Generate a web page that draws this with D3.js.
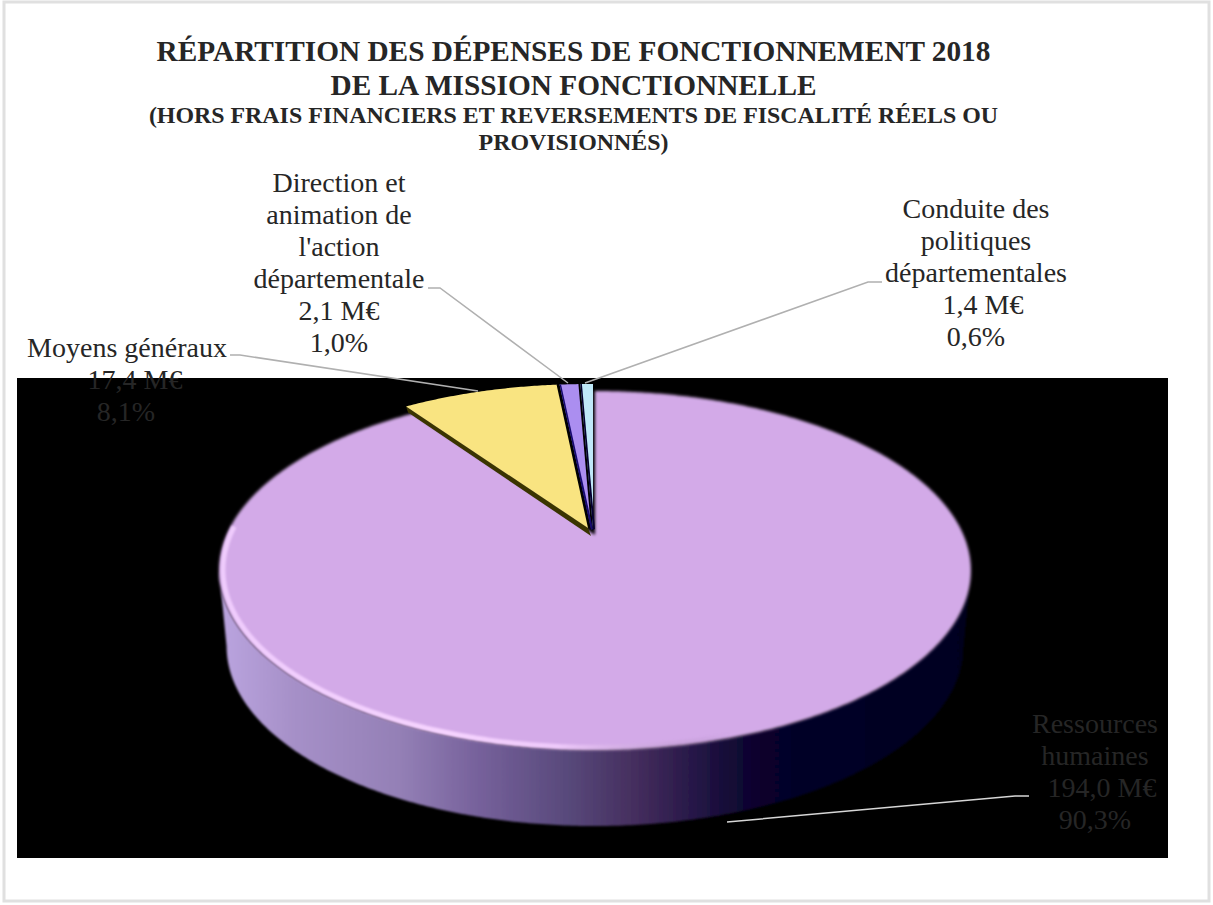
<!DOCTYPE html>
<html lang="fr">
<head>
<meta charset="utf-8">
<script src="https://cdn.jsdelivr.net/npm/d3@7"></script>
<style>
html,body{margin:0;padding:0;background:#fff;}
svg{display:block;}
text{font-family:"Liberation Serif","Times New Roman",serif;}
</style>
</head>
<body>
<svg id="chart" width="1213" height="905"></svg>
<script>
// ---- data ----
const categories = ["Ressources humaines", "Moyens généraux", "Direction et animation de l'action départementale", "Conduite des politiques départementales"];
const valuesMEuro = [194.0, 17.4, 2.1, 1.4];
const amountLabels = ["194,0 M€", "17,4 M€", "2,1 M€", "1,4 M€"];
const shareLabels = ["90,3%", "8,1%", "1,0%", "0,6%"];
const categoryLines = [["Ressources", "humaines"], ["Moyens généraux"], ["Direction et", "animation de", "l'action", "départementale"], ["Conduite des", "politiques", "départementales"]];
const titleLines = ["RÉPARTITION DES DÉPENSES DE FONCTIONNEMENT 2018", "DE LA MISSION FONCTIONNELLE", "(HORS FRAIS FINANCIERS ET REVERSEMENTS DE FISCALITÉ RÉELS OU", "PROVISIONNÉS)"];

// ---- styling and layout ----
const sliceColors = ["#d3aae8", "#f9e481", "#ab8ef0", "#bfe8f8"];
const sideColors = ["none", "#3a3400", "#160a6e", "#050030"];
const sliceShift = [[0, 0], [-7, -7], [-4, -7], [-2, -7]];
const titleStyle = [[61, 29.3], [95, 29.3], [123, 23.9], [150, 23.9]];
const labelCentre = [[1095, 733, 1102, 1095], [127, 357, 135, 126], [339, 192, 339, 339], [976, 218, 983, 976]];
const leaderPaths = [
  [[1029, 796], [1015, 796], [727, 822]],
  [[230, 355], [240, 355], [478, 391]],
  [[428, 288], [440, 288], [568, 383]],
  [[882, 282], [868, 282], [585, 383]]
];
const leaderColors = ["#d6d6d6", "#b0b0b0", "#b0b0b0", "#b0b0b0"];

const svg = d3.select("#chart");
const defs = svg.append("defs");
defs.append("filter").attr("id", "soft").attr("x", "-5%").attr("y", "-5%").attr("width", "110%").attr("height", "110%")
  .append("feGaussianBlur").attr("stdDeviation", 0.9);
defs.append("filter").attr("id", "softer").attr("x", "-5%").attr("y", "-5%").attr("width", "110%").attr("height", "110%")
  .append("feGaussianBlur").attr("stdDeviation", 1.5);

const wall = defs.append("linearGradient").attr("id", "wall").attr("gradientUnits", "userSpaceOnUse")
  .attr("x1", 218).attr("x2", 971).attr("y1", 0).attr("y2", 0);
[[0, "#bba5e0"], [0.1, "#a690c8"], [0.24, "#9480b6"], [0.35, "#75609a"], [0.46, "#594a7c"], [0.56, "#432c5c"],
 [0.63, "#271848"], [0.68, "#140a36"], [0.73, "#07002a"], [1, "#02001f"]].forEach(([o, c]) => wall.append("stop").attr("offset", o).attr("stop-color", c));

const rim = defs.append("linearGradient").attr("id", "rim").attr("gradientUnits", "userSpaceOnUse")
  .attr("x1", 218).attr("x2", 971).attr("y1", 0).attr("y2", 0);
[[0, "#f2cfff", 0.9], [0.3, "#f6d4ff", 1], [0.45, "#f4d0ff", 0.85], [0.58, "#c9a6d8", 0.35], [0.68, "#8a6a9a", 0]]
  .forEach(([o, c, a]) => rim.append("stop").attr("offset", o).attr("stop-color", c).attr("stop-opacity", a));

// Frame and plot background
svg.append("rect").attr("x", 4).attr("y", 2).attr("width", 1205).attr("height", 899)
  .attr("fill", "#fff").attr("stroke", "#e0e0e0").attr("stroke-width", 3);
svg.append("rect").attr("x", 17).attr("y", 378).attr("width", 1151).attr("height", 480).attr("fill", "#000");

// Perspective projection of the unit disc
const persp = 0.1978;
const sx = d3.scaleLinear().domain([-1, 1]).range([-368.5, 368.5]);
const sy = d3.scaleLinear().domain([-1, 1]).range([172.5, -172.5]);
const project = (a, r, cx, cy) => {
  const X = r * Math.sin(a), Y = r * Math.cos(a), w = 1 + persp * Y;
  return [cx + sx(X) / w, cy + sy(Y) / w];
};
const CX = 595, CY = 535, DEPTH = 76, BASE_SCALE = 0.98;
const line = d3.line();
const closed = d3.line().curve(d3.curveLinearClosed);
const STEP = Math.PI / 360;

const arcs = d3.pie().sort(null).value(d => d).startAngle(0).endAngle(2 * Math.PI)(valuesMEuro);

const samples = (a0, a1) => { const s = d3.range(a0, a1, STEP); s.push(a1); return s; };
const wedge = (d, cx, cy) => [[cx, cy], ...samples(d.startAngle, d.endAngle).map(a => project(a, 1, cx, cy))];

// Side wall of the main slice (front half of the disc)
const edgeA = Math.acos(-persp), edgeB = 2 * Math.PI - edgeA;
const frontTop = samples(edgeA, edgeB).map(a => project(a, 1, CX, CY));
const frontBase = samples(edgeA, edgeB).map(a => {
  const p = project(a, 1, CX, CY);
  return [CX + (p[0] - CX) * BASE_SCALE, p[1] + DEPTH];
}).reverse();
svg.append("path").attr("d", closed([...frontTop, ...frontBase])).attr("fill", "url(#wall)").attr("filter", "url(#soft)");

// Top of the main slice
svg.append("path").datum(arcs[0]).attr("d", d => closed(wedge(d, CX, CY)))
  .attr("fill", sliceColors[0]).attr("filter", "url(#softer)");

// Bevel highlight on the rim
const rimPts = samples(edgeA + 0.25, 3 * Math.PI / 2 + 0.05).map(a => project(a, 0.99, CX, CY));
svg.append("path").attr("d", line(rimPts)).attr("fill", "none").attr("stroke", "url(#rim)")
  .attr("stroke-width", 5).attr("filter", "url(#soft)");

// Small slices, raised slightly from the main one
arcs.slice(1).forEach((d, k) => {
  const i = k + 1;
  const cx = CX + sliceShift[i][0], cy = CY + sliceShift[i][1];
  const start = project(d.startAngle, 1, cx, cy);
  if (i === 1) {
    svg.append("path").attr("d", closed([start, [cx, cy], [cx + 3, cy + 8], [start[0] + 2, start[1] + 6]]))
      .attr("fill", sideColors[i]);
  }
});
arcs.slice(1).forEach((d, k) => {
  const i = k + 1;
  const cx = CX + sliceShift[i][0], cy = CY + sliceShift[i][1];
  svg.append("path").attr("d", closed(wedge(d, cx, cy))).attr("fill", sliceColors[i]);
});
// Dark cut faces visible inside the narrow slices
[2, 3].forEach(i => {
  const d = arcs[i];
  const cx = CX + sliceShift[i][0], cy = CY + sliceShift[i][1];
  const start = project(d.startAngle, 1, cx, cy);
  svg.append("path").attr("d", closed([start, [start[0] + 1.5, start[1]], [cx + 2, cy + 1], [cx, cy + 2]]))
    .attr("fill", sideColors[i]);
});

// Leader lines
leaderPaths.forEach((p, i) => svg.append("path").attr("d", line(p)).attr("fill", "none")
  .attr("stroke", leaderColors[i]).attr("stroke-width", 1.5));

// Title
titleLines.forEach((t, i) => svg.append("text").text(t).attr("x", 573.5).attr("y", titleStyle[i][0])
  .attr("text-anchor", "middle").attr("font-size", titleStyle[i][1]).attr("font-weight", "bold").attr("fill", "#262626"));

// Data labels
categories.forEach((c, i) => {
  const [xc, y0, xa, xs] = labelCentre[i];
  const rows = categoryLines[i].map(t => [t, xc]).concat([[amountLabels[i], xa], [shareLabels[i], xs]]);
  rows.forEach(([t, x], r) => svg.append("text").text(t).attr("x", x).attr("y", y0 + r * 32)
    .attr("text-anchor", "middle").attr("font-size", 28).attr("fill", "#262626"));
});
</script>
</body>
</html>
